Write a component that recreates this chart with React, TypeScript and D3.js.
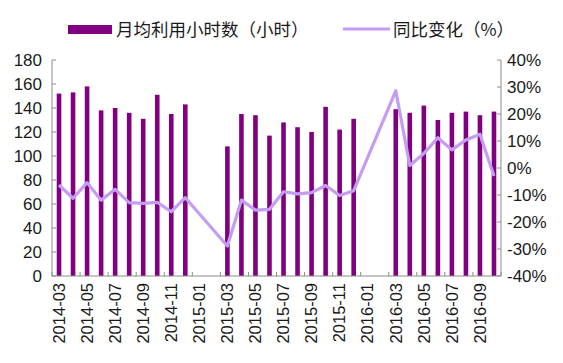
import { useEffect, useRef } from 'react';
import * as d3 from 'd3';

const months = [
  '2014-03', '2014-04', '2014-05', '2014-06', '2014-07', '2014-08', '2014-09', '2014-10',
  '2014-11', '2014-12', '2015-01', '2015-02', '2015-03', '2015-04', '2015-05', '2015-06',
  '2015-07', '2015-08', '2015-09', '2015-10', '2015-11', '2015-12', '2016-01', '2016-02',
  '2016-03', '2016-04', '2016-05', '2016-06', '2016-07', '2016-08', '2016-09', '2016-10'
];

// 月均利用小时数（小时）
const hours: (number | null)[] = [
  152, 153, 158, 138, 140, 136, 131, 151,
  135, 143, null, null, 108, 135, 134, 117,
  128, 124, 120, 141, 122, 131, null, null,
  139, 136, 142, 130, 136, 137, 134, 137
];

// 同比变化（%）
const yoy: (number | null)[] = [
  -6.3, -11.2, -5.4, -11.9, -7.9, -12.8, -13.1, -12.7,
  -16.2, -11, null, null, -28.9, -11.9, -15.6, -15.3,
  -8.8, -9.6, -9.1, -6.5, -10.2, -8.4, null, null,
  28.6, 0.9, 5.4, 11.2, 6.7, 10.4, 12.5, -3
];

const leftTicks = [0, 20, 40, 60, 80, 100, 120, 140, 160, 180];
const rightTicks = [-40, -30, -20, -10, 0, 10, 20, 30, 40];

const App = () => {
  const svgRef = useRef<SVGSVGElement>(null);

  useEffect(() => {
    if (!svgRef.current) return;
    const width = 563;
    const height = 363;
    const left = 52, right = 501, top = 60, bottom = 276;
    const font = 'Arial, "Liberation Sans", sans-serif';
    const axisColor = '#8c8c8c';
    const barColor = '#800080';
    const lineColor = '#c59cf4';

    const svg = d3.select(svgRef.current);
    svg.selectAll('*').remove();
    svg.attr('width', width).attr('height', height);

    const x = d3.scaleBand<string>().domain(months).range([left, right]).padding(0);
    const yL = d3.scaleLinear().domain([0, 180]).range([bottom, top]);
    const yR = d3.scaleLinear().domain([-40, 40]).range([bottom, top]);

    // 柱子
    const barW = 4.6;
    svg.append('g')
      .selectAll('rect')
      .data(months.map((m, i) => ({ m, v: hours[i] })).filter(d => d.v !== null))
      .enter()
      .append('rect')
      .attr('x', d => x(d.m)! + x.bandwidth() / 2 - barW / 2)
      .attr('width', barW)
      .attr('y', d => yL(d.v as number))
      .attr('height', d => bottom - yL(d.v as number))
      .attr('fill', barColor);

    // 折线（跨过空缺月份）
    const pts = months.map((m, i) => ({ m, v: yoy[i] })).filter(d => d.v !== null);
    const line = d3.line<{ m: string; v: number | null }>()
      .x(d => x(d.m)! + x.bandwidth() / 2)
      .y(d => yR(d.v as number));
    svg.append('path')
      .datum(pts)
      .attr('d', line)
      .attr('fill', 'none')
      .attr('stroke', lineColor)
      .attr('stroke-width', 3.2)
      .attr('stroke-linejoin', 'round');

    // 坐标轴
    const axes = svg.append('g').attr('stroke', axisColor).attr('stroke-width', 1);
    axes.append('line').attr('x1', left).attr('x2', left).attr('y1', top).attr('y2', bottom);
    axes.append('line').attr('x1', right).attr('x2', right).attr('y1', top).attr('y2', bottom);
    axes.append('line').attr('x1', left).attr('x2', right).attr('y1', bottom).attr('y2', bottom);
    leftTicks.forEach(t => {
      axes.append('line').attr('x1', left).attr('x2', left + 4).attr('y1', yL(t)).attr('y2', yL(t));
    });
    rightTicks.forEach(t => {
      axes.append('line').attr('x1', right - 4).attr('x2', right).attr('y1', yR(t)).attr('y2', yR(t));
    });
    months.forEach((m, i) => {
      if (i % 2 === 0) {
        axes.append('line').attr('x1', x(m)!).attr('x2', x(m)!).attr('y1', bottom - 4).attr('y2', bottom);
      }
    });
    axes.append('line').attr('x1', right).attr('x2', right).attr('y1', bottom - 4).attr('y2', bottom);

    svg.append('g')
      .selectAll('text')
      .data(leftTicks)
      .enter()
      .append('text')
      .attr('x', left - 10)
      .attr('y', d => yL(d))
      .attr('dy', '0.35em')
      .attr('text-anchor', 'end')
      .style('font-family', font)
      .style('font-size', '17px')
      .style('fill', '#1a1a1a')
      .text(d => d);

    svg.append('g')
      .selectAll('text')
      .data(rightTicks)
      .enter()
      .append('text')
      .attr('x', right + 6)
      .attr('y', d => yR(d))
      .attr('dy', '0.35em')
      .attr('text-anchor', 'start')
      .style('font-family', font)
      .style('font-size', '17px')
      .style('fill', '#1a1a1a')
      .text(d => `${d}%`);

    svg.append('g')
      .selectAll('text')
      .data(months.filter((_, i) => i % 2 === 0))
      .enter()
      .append('text')
      .attr('transform', d => `translate(${x(d)! + x.bandwidth() / 2},${bottom + 7}) rotate(-90)`)
      .attr('dy', '0.35em')
      .attr('text-anchor', 'end')
      .style('font-family', font)
      .style('font-size', '16.5px')
      .style('fill', '#1a1a1a')
      .text(d => d);

    // 图例
    const lg = svg.append('g');
    const lgFont = '"Noto Sans CJK SC", sans-serif';
    lg.append('rect').attr('x', 68).attr('y', 25).attr('width', 44).attr('height', 9).attr('fill', barColor);
    lg.append('text').attr('x', 116).attr('y', 30).attr('dy', '0.35em')
      .style('font-family', lgFont).style('font-size', '17.5px').style('fill', '#1a1a1a')
      .text('月均利用小时数（小时）');
    lg.append('line').attr('x1', 343).attr('x2', 390).attr('y1', 29).attr('y2', 29)
      .attr('stroke', lineColor).attr('stroke-width', 3.2);
    lg.append('text').attr('x', 393).attr('y', 30).attr('dy', '0.35em')
      .style('font-family', lgFont).style('font-size', '17.5px').style('fill', '#1a1a1a')
      .text('同比变化（%）');
  }, []);

  return (
    <div style={{ position: 'absolute', left: 0, top: 0, background: '#fff' }}>
      <svg ref={svgRef} style={{ display: 'block' }}></svg>
    </div>
  );
};

export default App;
